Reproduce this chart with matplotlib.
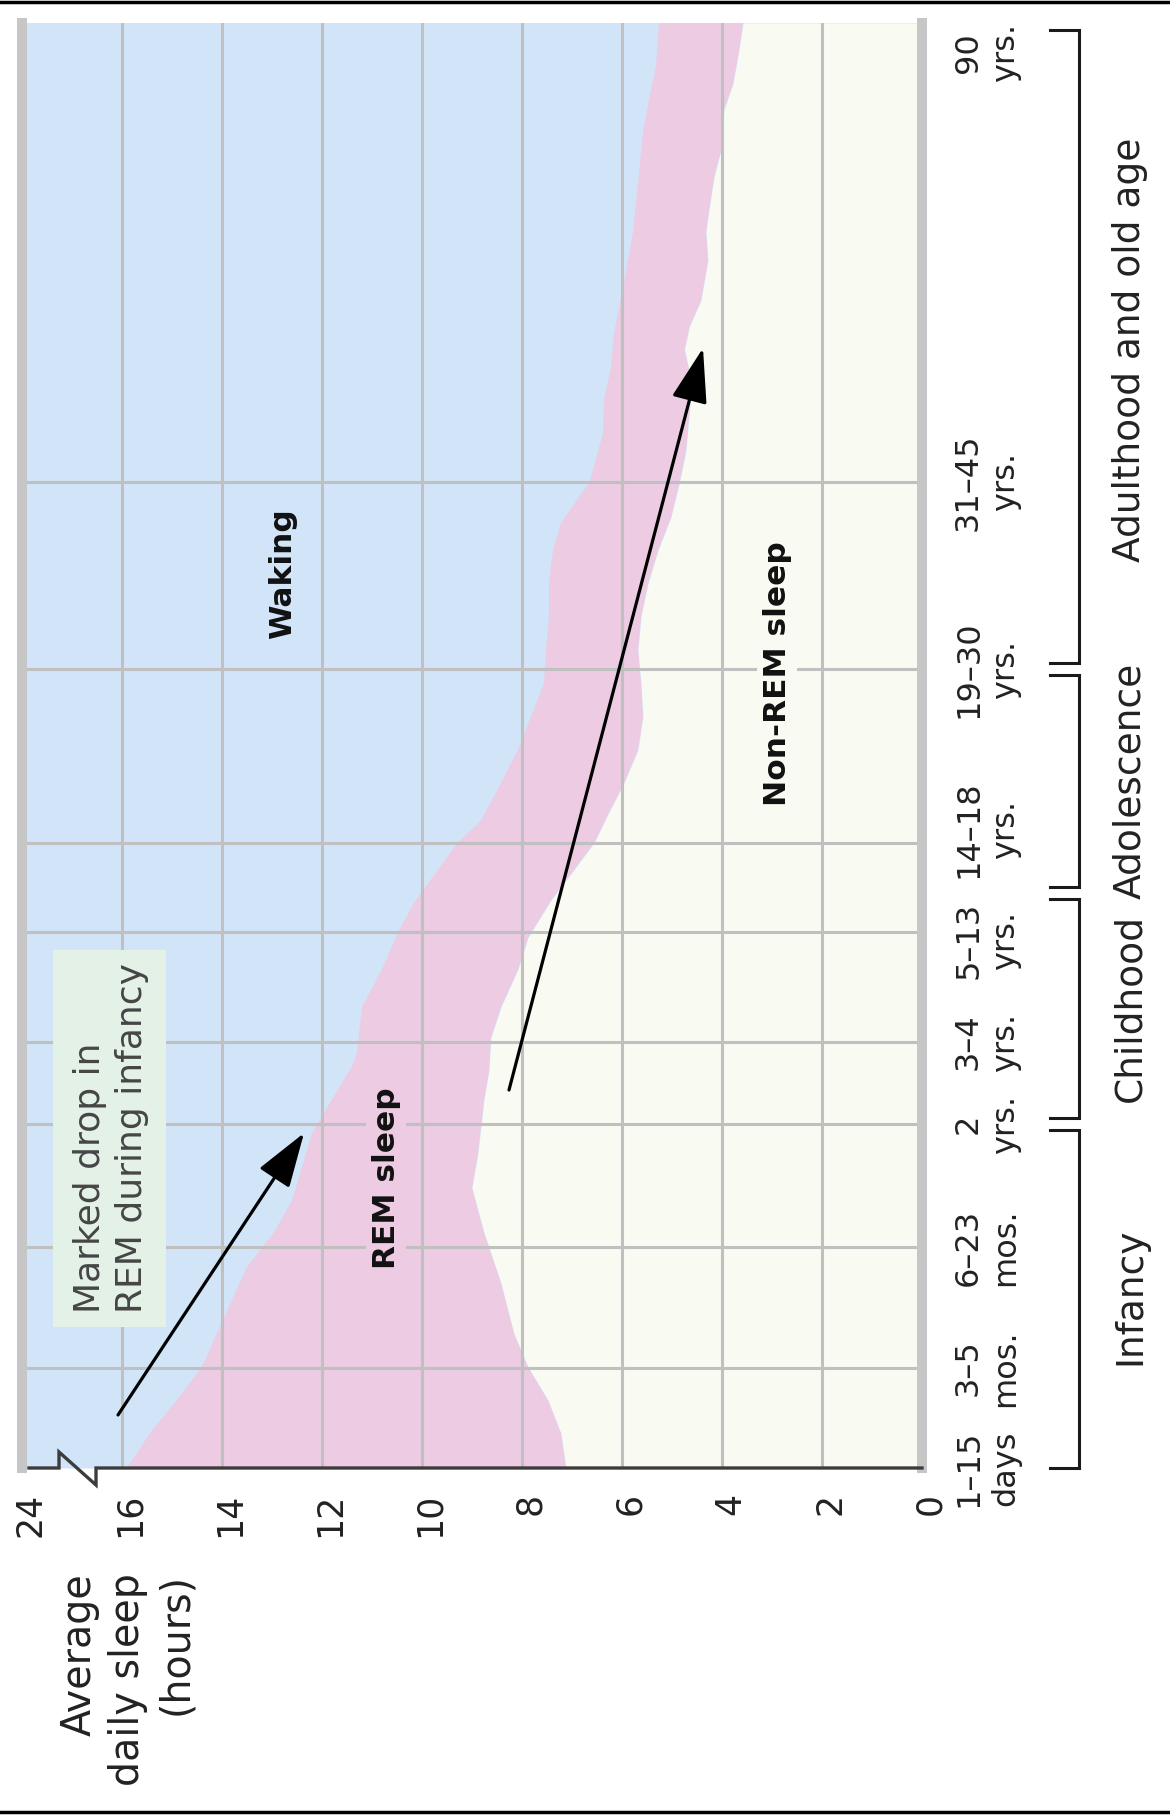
import matplotlib
matplotlib.use('Agg')
import matplotlib.pyplot as plt
from matplotlib.lines import Line2D
from matplotlib.patches import Rectangle
from matplotlib.transforms import blended_transform_factory, ScaledTranslation

plt.rcParams['font.family'] = ['DejaVu Sans']

# ---------------- data ----------------
# age categories (position along the age axis, 0 = 1-15 days, 100 = 90 yrs)
age_labels = ['1–15\ndays', '3–5\nmos.', '6–23\nmos.', '2\nyrs.', '3–4\nyrs.',
              '5–13\nyrs.', '14–18\nyrs.', '19–30\nyrs.', '31–45\nyrs.', '90\nyrs.']
age_pos = [0, 6.92, 15.29, 23.81, 29.48, 37.09, 43.25, 55.29, 68.24, 100]

# hours axis (axis is broken between 16 and 24)
hour_ticks = [18, 16, 14, 12, 10, 8, 6, 4, 2, 0]
hour_labels = ['24', '16', '14', '12', '10', '8', '6', '4', '2', '0']

groups = ['Infancy', 'Childhood', 'Adolescence', 'Adulthood and old age']
group_bounds = [0, 23.81, 39.8, 55.29, 99.5]

# total sleep (upper edge of REM band)
total_u = [0, 2.6, 4.7, 7.0, 9.3, 11.6, 13.9, 16.3, 18.5, 20.8, 23.2, 25.5, 27.8, 28.7,
           31.9, 34.5, 37.2, 39.1, 41.4, 43.3, 44.8, 47.4, 49.7, 52.0, 54.3, 56.6, 58.9,
           61.2, 63.5, 65.4, 68.2, 71.6, 73.9, 76.2, 78.5, 82.0, 85.5, 88.9, 92.4, 94.7,
           97.0, 100]
total_h = [15.9, 15.4, 14.9, 14.4, 14.1, 13.8, 13.5, 12.96, 12.6, 12.4, 12.2, 11.8, 11.4,
           11.3, 11.2, 10.8, 10.46, 10.16, 9.68, 9.28, 8.82, 8.42, 8.08, 7.82, 7.56, 7.52,
           7.46, 7.46, 7.38, 7.22, 6.65, 6.38, 6.36, 6.22, 6.16, 5.96, 5.78, 5.68, 5.58,
           5.46, 5.32, 5.26]

# non-REM sleep (lower edge of REM band)
nrem_u = [0, 2.4, 4.7, 7.0, 9.3, 12.8, 16.3, 19.4, 21.8, 25.5, 27.5, 29.8, 31.9, 34.5,
          36.7, 39.3, 41.4, 43.3, 45.1, 47.4, 49.7, 52.0, 54.3, 56.6, 58.9, 61.2, 63.5,
          65.8, 68.2, 70.4, 75.1, 77.4, 79.0, 80.8, 83.6, 85.5, 86.6, 89.3, 91.2, 94.0,
          95.8, 98.1, 100]
nrem_h = [7.12, 7.22, 7.48, 7.88, 8.16, 8.42, 8.76, 9.0, 8.88, 8.76, 8.66, 8.62, 8.42,
          8.08, 7.88, 7.42, 6.96, 6.55, 6.3, 5.96, 5.68, 5.58, 5.62, 5.68, 5.62, 5.48,
          5.28, 5.02, 4.85, 4.72, 4.6, 4.75, 4.65, 4.42, 4.28, 4.32, 4.28, 4.16, 4.02,
          3.96, 3.78, 3.66, 3.58]

region_labels = ['Waking', 'REM sleep', 'Non-REM sleep']
region_pos = [(12.78, 61.9), (10.72, 20.07), (2.9, 55.0)]

note_text = 'Marked drop in\nREM during infancy'
arrow1 = [(16.08, 3.67), (12.36, 23.18)]
arrow2 = [(8.26, 26.16), (4.38, 77.5)]

# ---------------- styling ----------------
WAKE = '#d2e4f8'
PINK = '#eccbe3'
NREM = '#f9fbf3'
GRID = '#c0c0c0'
EDGE = '#c6c6c6'
BOX = '#e3f1e6'
TXT = '#222222'
# small vertical nudges (pixels, + = up) for crowded age labels
label_nudge = {5: -8, 6: 14}

W, H = 1170, 1818
fig = plt.figure(figsize=(W / 100, H / 100), dpi=100)
ax = fig.add_axes([22 / W, (H - 1468) / H, 900 / W, 1445 / H])
ax.set_xlim(hour_ticks[0], hour_ticks[-1])
ax.set_ylim(age_pos[0], age_pos[-1])
ax.set_facecolor(WAKE)
for s in ax.spines.values():
    s.set_visible(False)
ax.set_yticks([])
ax.set_xticks(hour_ticks)
ax.set_xticklabels(hour_labels, rotation=90, fontsize=25, color=TXT)
ax.tick_params(axis='x', length=0, pad=18)
off = ScaledTranslation(8 / 100, 0, fig.dpi_scale_trans)
for lbl in ax.get_xticklabels():
    lbl.set_transform(lbl.get_transform() + off)

# fills
ax.fill_betweenx(total_u, total_h, hour_ticks[0], color=WAKE, lw=0, zorder=0.5)
ax.fill(list(total_h) + nrem_h[::-1], list(total_u) + nrem_u[::-1], color=PINK, lw=0, zorder=0.5)
ax.fill_betweenx(nrem_u, 0, nrem_h, color=NREM, lw=0, zorder=0.5)

# grid
for h in hour_ticks:
    if hour_ticks[-1] < h < hour_ticks[0]:
        ax.axvline(h, color=GRID, lw=2.2, zorder=1)
for u in age_pos[1:-1]:
    ax.axhline(u, color=GRID, lw=2.2, zorder=1)

# side bars
for h in (hour_ticks[0], hour_ticks[-1]):
    ax.axvline(h, color=EDGE, lw=7.2, zorder=2, clip_on=False)

# baseline with break symbol
trX = blended_transform_factory(ax.transData, ax.transAxes)
px = 1 / 1445
bx = [17.86, 17.26, 17.26, 16.52, 16.52, 0]
by = [0, 0, 16 * px, -17 * px, 0, 0]
ax.plot(bx, by, transform=trX, color='#3c3c3c', lw=2.4, clip_on=False, zorder=5,
        solid_joinstyle='miter')

# annotation box and text
ax.add_patch(Rectangle((15.12, 9.76), 2.26, 26.09, facecolor=BOX, edgecolor='none', zorder=2))
ax.text(16.22, 10.73, note_text, rotation=90, ha='center', va='bottom', multialignment='left',
        fontsize=26, color='#454545', linespacing=1.28, zorder=3)

# region labels
bgs = [WAKE, PINK, NREM]
for lab, (h, u), bg in zip(region_labels, region_pos, bgs):
    ax.text(h, u, lab, rotation=90, ha='center', va='center', fontsize=22.5,
            fontweight='bold', color='#111111', zorder=3,
            bbox=dict(facecolor=bg, edgecolor='none', pad=4))

# arrows
for (t, hd) in (arrow1, arrow2):
    ax.annotate('', xy=hd, xytext=t,
                arrowprops=dict(arrowstyle='-|>,head_length=0.85,head_width=0.28',
                                mutation_scale=40, lw=2.3, color='black',
                                shrinkA=0, shrinkB=0), zorder=4)

# age tick labels (right side)
trR = blended_transform_factory(fig.transFigure, ax.transData)
for i, (lab, u) in enumerate(zip(age_labels, age_pos)):
    va = 'top' if i == len(age_labels) - 1 else 'center'
    tr = trR + ScaledTranslation(0, label_nudge.get(i, 0) / 100, fig.dpi_scale_trans)
    ax.text(987 / W, u, lab, transform=tr, rotation=90, ha='center', va=va,
            multialignment='center', fontsize=23, linespacing=1.25, color=TXT,
            clip_on=False)

# group brackets
xline, xtick = 1079 / W, 1050 / W
gap = 0.42
for i, g in enumerate(groups):
    lo, hi = group_bounds[i], group_bounds[i + 1]
    lo2 = lo + (gap if i > 0 else 0)
    hi2 = hi - (gap if i < len(groups) - 1 else 0)
    ax.plot([xtick, xline, xline, xtick], [lo2, lo2, hi2, hi2], transform=trR,
            color='#1a1a1a', lw=2.2, clip_on=False, solid_joinstyle='miter')
    ax.text(1130 / W, (lo + hi) / 2, g, transform=trR, rotation=90, ha='center',
            va='center', fontsize=27, color=TXT, clip_on=False)

# y-axis title
fig.text(128 / W, (H - 1573) / H, 'Average\ndaily sleep\n(hours)', rotation=90,
         ha='center', va='top', multialignment='right', fontsize=28.5, linespacing=1.26,
         color=TXT)

# frame lines
fig.add_artist(Line2D([0, 1], [1 - 1.5 / H] * 2, color='black', lw=2.5, transform=fig.transFigure))
fig.add_artist(Line2D([0, 1], [(H - 1812) / H] * 2, color='black', lw=2.5, transform=fig.transFigure))

fig.savefig('out.png', dpi=100, facecolor='white')
